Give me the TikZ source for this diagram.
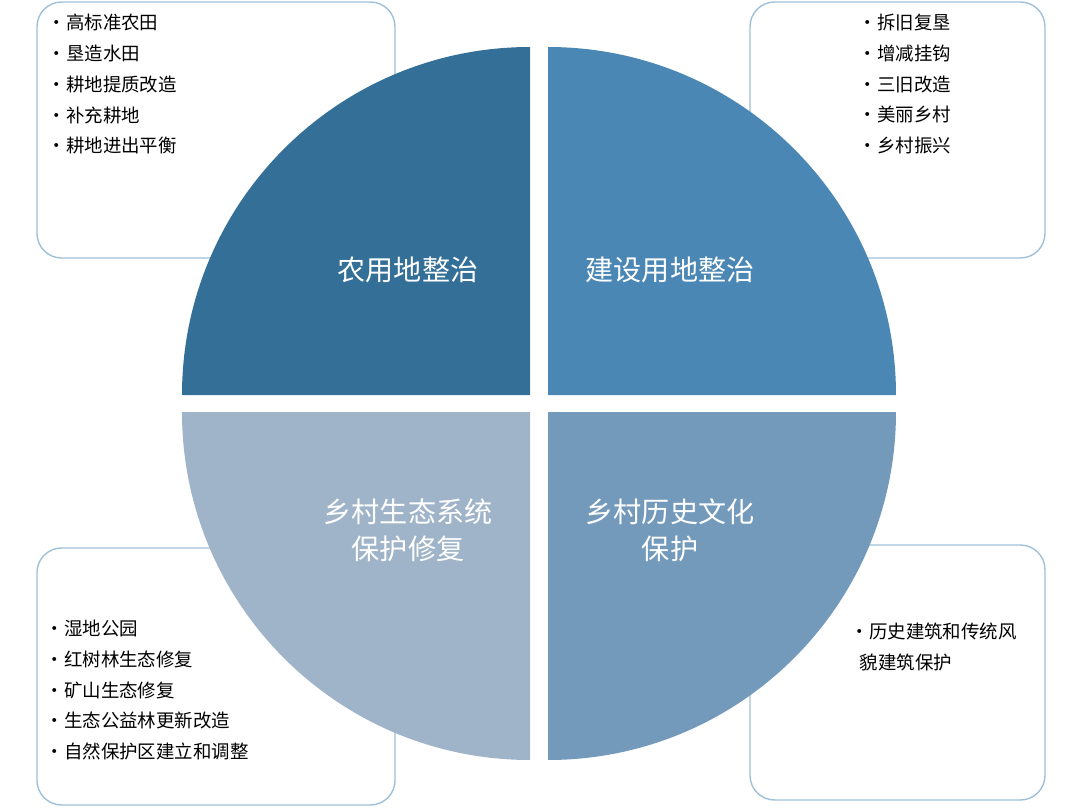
\documentclass[tikz,border=0pt]{standalone}
\usepackage{fontspec}
\newfontfamily\cjk{Noto Sans CJK SC}
\usepackage[dvipsnames]{xcolor}
\definecolor{qa}{HTML}{336F97}
\definecolor{qb}{HTML}{4A87B5}
\definecolor{qc}{HTML}{9FB4C8}
\definecolor{qd}{HTML}{7399BB}
\definecolor{edge}{HTML}{9FC0D8}
\begin{document}
\begin{tikzpicture}[x=0.02cm,y=-0.02cm,thick,
    listbox/.style={draw=edge,fill=white,rounded corners=14pt,line width=0.8pt},
    item list/.style={anchor=north west,align=left,font=\cjk\fontsize{10.5}{17.6}\selectfont,inner sep=0pt},
    big label/.style={align=center,text=white,font=\cjk\fontsize{16}{21}\selectfont}]

            \useasboundingbox (0,0) rectangle (1080,808);

            % boxes behind the circle
            \draw[listbox] (37,2) rectangle (395,258);
            \draw[listbox] (750,2) rectangle (1045,258);
            \draw[listbox] (37,548) rectangle (395,805);
            \draw[listbox] (750,545) rectangle (1045,800);

            % quarters
            \fill[qa] (530,395) -- (182,395) arc[start angle=180,end angle=90,x radius=348,y radius=-348] -- cycle;
            \fill[qb] (548,395) -- (548,47) arc[start angle=90,end angle=0,x radius=348,y radius=-348] -- cycle;
            \fill[qc] (530,412) -- (530,760) arc[start angle=270,end angle=180,x radius=348,y radius=-348] -- cycle;
            \fill[qd] (548,412) -- (896,412) arc[start angle=0,end angle=-90,x radius=348,y radius=-348] -- cycle;

            \node[big label] (farm) at (408,270) {农用地整治};
            \node[big label] (build) at (670,270) {建设用地整治};
            \node[big label] (eco) at (408,530) {乡村生态系统\\保护修复};
            \node[big label] (hist) at (670,530) {乡村历史文化\\保护};

            \node[item list] (farmlist) at (47,13) {•高标准农田\\•垦造水田\\•耕地提质改造\\•补充耕地\\•耕地进出平衡};
            \node[item list] (buildlist) at (858,13) {•拆旧复垦\\•增减挂钩\\•三旧改造\\•美丽乡村\\•乡村振兴};
            \node[item list] (ecolist) at (45,619) {•湿地公园\\•红树林生态修复\\•矿山生态修复\\•生态公益林更新改造\\•自然保护区建立和调整};
            \node[item list] (histlist) at (850,622) {•历史建筑和传统风\\\hspace*{0.5em}貌建筑保护};

        \end{tikzpicture}
\end{document}
